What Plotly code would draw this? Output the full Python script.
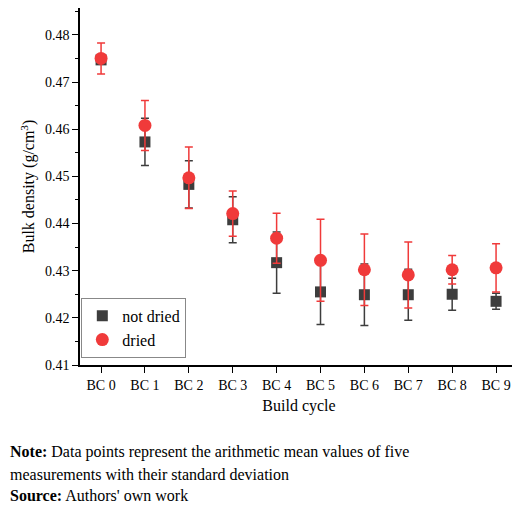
import plotly.graph_objects as go

cats = ["BC 0","BC 1","BC 2","BC 3","BC 4","BC 5","BC 6","BC 7","BC 8","BC 9"]
nd_mean = [0.4747,0.4573,0.4483,0.4408,0.4317,0.4255,0.4249,0.4249,0.4250,0.4235]
nd_sd   = [0.0005,0.0050,0.0050,0.0049,0.0065,0.0069,0.0065,0.0054,0.0034,0.0017]
d_mean  = [0.4750,0.4608,0.4497,0.4421,0.4369,0.4322,0.4302,0.4291,0.4302,0.4306]
d_sd    = [0.0033,0.0053,0.0065,0.0048,0.0053,0.0087,0.0076,0.0070,0.0030,0.0051]

F = "Liberation Serif"
fig = go.Figure()
fig.add_trace(go.Scatter(x=cats, y=nd_mean, mode="markers", name="not dried",
    marker=dict(symbol="square", size=11, color="#3d3d3d"),
    error_y=dict(type="data", array=nd_sd, color="#3d3d3d", thickness=1.5, width=4)))
fig.add_trace(go.Scatter(x=cats, y=d_mean, mode="markers", name="dried",
    marker=dict(symbol="circle", size=13, color="#f03a3a"),
    error_y=dict(type="data", array=d_sd, color="#f03a3a", thickness=1.5, width=4)))

fig.update_layout(
    width=520, height=505, plot_bgcolor="white", paper_bgcolor="white",
    margin=dict(l=72, r=10, t=0, b=148),
    font=dict(family=F, size=14, color="black"),
    showlegend=True,
    legend=dict(x=0.003, y=0.02, xanchor="left", yanchor="bottom",
                bordercolor="#888", borderwidth=1, font=dict(size=16, family=F)),
    xaxis=dict(type="category", range=[-0.48, 9.5], showline=True, linecolor="black",
               linewidth=1.5, ticks="outside", ticklen=6, tickcolor="black",
               title=dict(text="Build cycle", font=dict(size=16, family=F), standoff=8)),
    yaxis=dict(range=[0.41, 0.4857], dtick=0.01, tickformat=".2f", showline=True,
               linecolor="black", linewidth=1.5, ticks="outside", ticklen=6,
               tickcolor="black", showgrid=False, zeroline=False,
               minor=dict(dtick=0.005, ticks="outside", ticklen=3, tickcolor="black"),
               title=dict(text="Bulk density (g/cm<sup>3</sup>)", font=dict(size=16, family=F), standoff=6)),
)
fig.update_xaxes(showgrid=False)
notes = [("<b>Note:</b> Data points represent the arithmetic mean values of five", 444),
         ("measurements with their standard deviation", 466),
         ("<b>Source:</b> Authors' own work", 487)]
for t, ypx in notes:
    fig.add_annotation(text=t, xref="paper", yref="paper", x=-72/438, xanchor="left",
                       y=(357-ypx)/357, yanchor="middle", showarrow=False,
                       font=dict(size=16, family=F))
fig.write_html("out.html")
